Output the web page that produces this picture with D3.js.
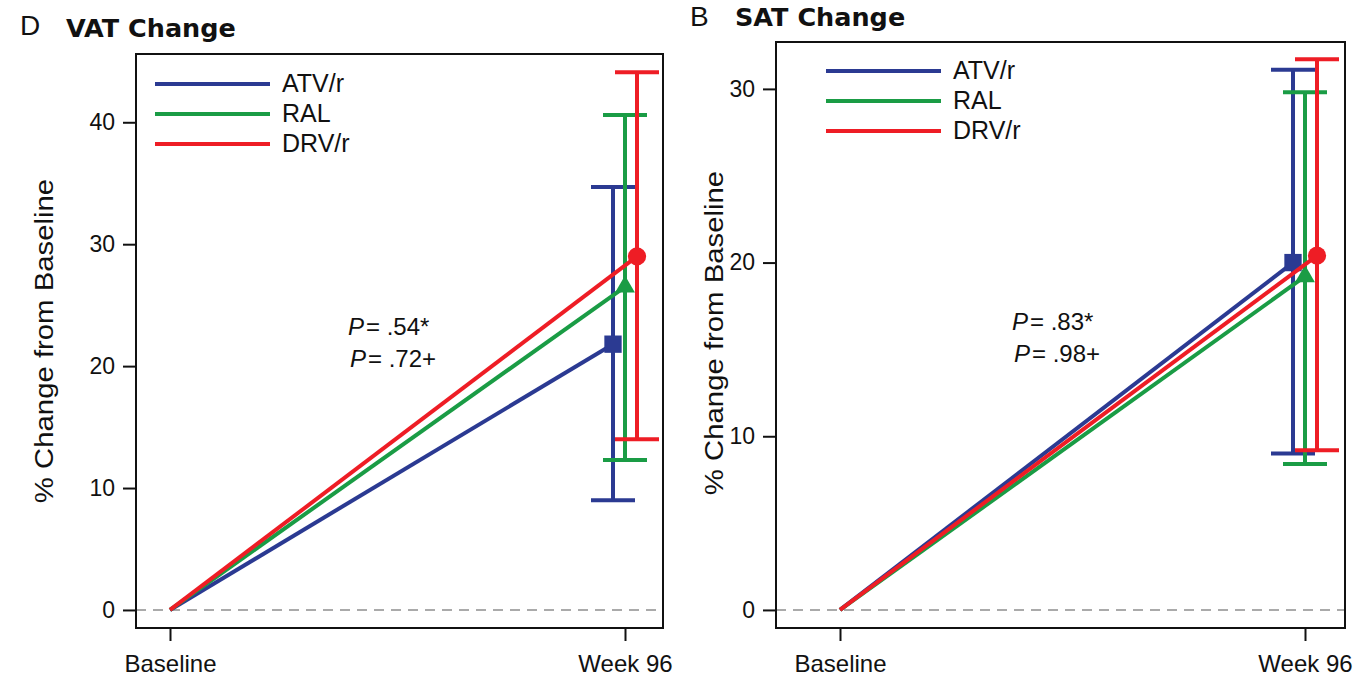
<!DOCTYPE html>
<html>
<head>
<meta charset="utf-8">
<script src="https://cdn.jsdelivr.net/npm/d3@7"></script>
<style>
  body { margin: 0; background: #fff; }
  svg text { font-family: "Liberation Sans", Arial, sans-serif; fill: #111; }
</style>
</head>
<body>
<div id="chart"></div>
<script>
// data
const groups = ["ATV/r", "RAL", "DRV/r"];
const groupColors = ["#2b3a92", "#1a9c45", "#ee1d25"];
const timepoints = ["Baseline", "Week 96"];

const vatMean = [21.8, 26.5, 29.0];
const vatLower = [9.0, 12.3, 14.0];
const vatUpper = [34.7, 40.6, 44.1];
const vatTicks = [0, 10, 20, 30, 40];

const satMean = [20.0, 19.2, 20.4];
const satLower = [9.0, 8.4, 9.2];
const satUpper = [31.1, 29.8, 31.7];
const satTicks = [0, 10, 20, 30];

const svg = d3.select("#chart").append("svg")
    .attr("width", 1363)
    .attr("height", 676);

function drawPanel(cfg) {
    let g = svg.append("g");
    let frame = cfg.frame; // left, top, right, bottom

    let x = d3.scalePoint()
        .domain(timepoints)
        .range([cfg.xBase, cfg.xWeek]);

    let offset = d3.scalePoint()
        .domain(groups)
        .range([-12, 12]);

    let y = d3.scaleLinear()
        .domain(cfg.yDomain)
        .range([frame.bottom, frame.top]);

    // panel letter + title
    g.append("text")
        .attr("x", cfg.letterX).attr("y", cfg.letterY)
        .attr("font-size", 28)
        .text(cfg.letter);
    g.append("text")
        .attr("x", cfg.titleX).attr("y", cfg.titleY)
        .attr("font-size", 25.5)
        .attr("font-weight", "bold")
        .style("font-family", "'DejaVu Sans', sans-serif")
        .text(cfg.title);

    // zero reference line
    g.append("line")
        .attr("x1", frame.left).attr("x2", frame.right)
        .attr("y1", y(0)).attr("y2", y(0))
        .attr("stroke", "#aaa")
        .attr("stroke-width", 2)
        .attr("stroke-dasharray", "10,7");

    // y axis
    let yAxis = g.append("g")
        .attr("transform", "translate(" + frame.left + ",0)")
        .call(d3.axisLeft(y).tickValues(cfg.ticks).tickSize(13).tickPadding(8));
    yAxis.select(".domain").remove();
    yAxis.selectAll(".tick line").attr("stroke", "#111").attr("stroke-width", 2);
    yAxis.selectAll(".tick text")
        .attr("font-size", 23)
        .attr("fill", "#111")
        .style("font-family", "'Liberation Sans', Arial, sans-serif");

    // x axis
    let xAxis = g.append("g")
        .attr("transform", "translate(0," + frame.bottom + ")")
        .call(d3.axisBottom(x).tickSize(13).tickPadding(14));
    xAxis.select(".domain").remove();
    xAxis.selectAll(".tick line").attr("stroke", "#111").attr("stroke-width", 2);
    xAxis.selectAll(".tick text")
        .attr("font-size", 24)
        .attr("fill", "#111")
        .style("font-family", "'Liberation Sans', Arial, sans-serif");

    // frame
    g.append("rect")
        .attr("x", frame.left).attr("y", frame.top)
        .attr("width", frame.right - frame.left)
        .attr("height", frame.bottom - frame.top)
        .attr("fill", "none")
        .attr("stroke", "#111")
        .attr("stroke-width", 2);

    // y label
    g.append("text")
        .attr("transform", "translate(" + cfg.yLabelX + "," + cfg.yLabelY + ") rotate(-90) scale(1.15,1)")
        .attr("text-anchor", "middle")
        .attr("font-size", 25.5)
        .text("% Change from Baseline");

    // series
    groups.forEach((grp, i) => {
        let col = groupColors[i];
        let wx = x("Week 96") + offset(grp);
        let m = cfg.mean[i];

        g.append("line")
            .attr("x1", x("Baseline")).attr("y1", y(0))
            .attr("x2", wx).attr("y2", y(m))
            .attr("stroke", col)
            .attr("stroke-width", 4);

        // error bar
        g.append("line")
            .attr("x1", wx).attr("x2", wx)
            .attr("y1", y(cfg.lower[i])).attr("y2", y(cfg.upper[i]))
            .attr("stroke", col).attr("stroke-width", 4);
        [cfg.lower[i], cfg.upper[i]].forEach(v => {
            g.append("line")
                .attr("x1", wx - 22).attr("x2", wx + 22)
                .attr("y1", y(v)).attr("y2", y(v))
                .attr("stroke", col).attr("stroke-width", 4);
        });

        // marker
        let sym = [d3.symbolSquare, d3.symbolTriangle, d3.symbolCircle][i];
        let size = [300, 170, 260][i];
        g.append("path")
            .attr("d", d3.symbol().type(sym).size(size))
            .attr("transform", "translate(" + wx + "," + y(m) + ")")
            .attr("fill", col);
    });

    // legend
    groups.forEach((grp, i) => {
        let ly = cfg.legend.y + i * 30;
        g.append("line")
            .attr("x1", cfg.legend.x).attr("x2", cfg.legend.x + 115)
            .attr("y1", ly).attr("y2", ly)
            .attr("stroke", groupColors[i])
            .attr("stroke-width", 4);
        g.append("text")
            .attr("x", cfg.legend.x + 127).attr("y", ly + 8)
            .attr("font-size", 25)
            .text(grp);
    });

    // p-values
    cfg.pvals.forEach((p, i) => {
        let t = g.append("text")
            .attr("x", cfg.pPos[0] + (i == 1 ? 2 : 0))
            .attr("y", cfg.pPos[1] + i * 32)
            .attr("font-size", 24);
        t.append("tspan").attr("font-style", "italic").text("P");
        t.append("tspan").attr("dx", 2).text("= " + p);
    });
}

drawPanel({
    letter: "D", title: "VAT Change",
    letterX: 20, letterY: 35, titleX: 66, titleY: 37,
    frame: {left: 136, top: 54, right: 663, bottom: 628},
    xBase: 170, xWeek: 625,
    yDomain: [-1.48, 45.6],
    ticks: vatTicks,
    mean: vatMean, lower: vatLower, upper: vatUpper,
    yLabelX: 53, yLabelY: 341,
    legend: {x: 155, y: 84},
    pvals: [".54*", ".72+"],
    pPos: [348, 335]
});

drawPanel({
    letter: "B", title: "SAT Change",
    letterX: 690, letterY: 26, titleX: 735, titleY: 26,
    frame: {left: 776, top: 42, right: 1345, bottom: 628},
    xBase: 840, xWeek: 1305,
    yDomain: [-1.04, 32.7],
    ticks: satTicks,
    mean: satMean, lower: satLower, upper: satUpper,
    yLabelX: 723, yLabelY: 333,
    legend: {x: 826, y: 71},
    pvals: [".83*", ".98+"],
    pPos: [1012, 330]
});
</script>
</body>
</html>
